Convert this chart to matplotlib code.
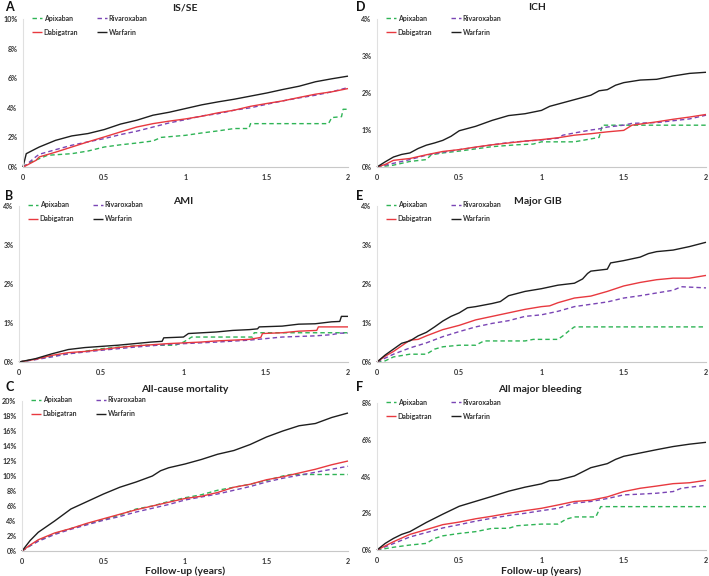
import matplotlib
matplotlib.use("Agg")
import matplotlib.pyplot as plt

plt.rcParams['font.family'] = ['Lato', 'DejaVu Sans']

# ---------------- data (cumulative incidence, %) ----------------
series_names = ["Apixaban", "Rivaroxaban", "Dabigatran", "Warfarin"]
x_ticks = [0, 0.5, 1, 1.5, 2]
x_tick_labels = ["0", "0.5", "1", "1.5", "2"]

# Panel A: IS/SE
A_t = [0, 0.02, 0.08, 0.1, 0.2, 0.3, 0.4, 0.5, 0.6, 0.7, 0.8, 0.9, 1.0, 1.1, 1.2, 1.3, 1.4, 1.5, 1.6, 1.7, 1.8, 1.9, 2.0]
A_war = [0, 0.9, 1.24, 1.35, 1.8, 2.1, 2.26, 2.53, 2.9, 3.16, 3.5, 3.7, 3.95, 4.2, 4.4, 4.58, 4.79, 5.0, 5.24, 5.46, 5.76, 5.96, 6.14]
A_dab = [0, 0.1, 0.45, 0.68, 1.0, 1.35, 1.7, 2.03, 2.37, 2.7, 2.93, 3.1, 3.25, 3.43, 3.66, 3.84, 4.1, 4.29, 4.47, 4.7, 4.92, 5.08, 5.3]
A_riv = [0, 0.15, 0.7, 0.86, 1.17, 1.47, 1.7, 1.92, 2.19, 2.42, 2.7, 2.98, 3.2, 3.45, 3.6, 3.84, 4.0, 4.24, 4.47, 4.67, 4.85, 5.08, 5.37]
A_apx_t = [0, 0.05, 0.1, 0.15, 0.3, 0.4, 0.5, 0.6, 0.7, 0.8, 0.85, 1.0, 1.1, 1.2, 1.3, 1.39, 1.4, 1.88, 1.9, 1.96, 1.97, 2.0]
A_apx = [0, 0.34, 0.56, 0.79, 0.9, 1.08, 1.35, 1.5, 1.62, 1.76, 2.0, 2.14, 2.3, 2.44, 2.6, 2.6, 2.93, 2.93, 3.34, 3.4, 3.9, 3.9]

# Panel B: AMI
B_war_t = [0, 0.1, 0.2, 0.3, 0.4, 0.5, 0.6, 0.7, 0.8, 0.87, 0.88, 1.0, 1.03, 1.2, 1.3, 1.4, 1.45, 1.46, 1.6, 1.7, 1.8, 1.9, 1.95, 1.96, 2.0]
B_war = [0, 0.085, 0.21, 0.32, 0.37, 0.4, 0.43, 0.47, 0.51, 0.53, 0.62, 0.64, 0.73, 0.77, 0.81, 0.83, 0.85, 0.9, 0.92, 0.97, 0.98, 1.03, 1.04, 1.17, 1.17]
B_dab_t = [0, 0.1, 0.2, 0.3, 0.4, 0.5, 0.6, 0.7, 0.8, 0.9, 1.0, 1.1, 1.2, 1.3, 1.4, 1.47, 1.48, 1.6, 1.7, 1.81, 1.82, 2.0]
B_dab = [0, 0.07, 0.17, 0.24, 0.27, 0.32, 0.37, 0.41, 0.44, 0.47, 0.49, 0.51, 0.54, 0.56, 0.58, 0.63, 0.73, 0.75, 0.79, 0.81, 0.9, 0.9]
B_riv_t = [0, 0.1, 0.2, 0.3, 0.5, 0.7, 0.9, 1.0, 1.2, 1.4, 1.5, 1.6, 1.8, 1.9, 1.95, 2.0]
B_riv = [0, 0.06, 0.13, 0.21, 0.3, 0.38, 0.45, 0.47, 0.51, 0.56, 0.6, 0.64, 0.67, 0.7, 0.74, 0.74]
B_apx_t = [0, 0.1, 0.2, 0.3, 0.5, 0.6, 0.75, 0.95, 1.0, 1.05, 1.42, 1.43, 2.0]
B_apx = [0, 0.07, 0.15, 0.21, 0.34, 0.38, 0.43, 0.43, 0.51, 0.64, 0.64, 0.75, 0.75]

# Panel C: All-cause mortality
C_t = [0, 0.05, 0.1, 0.2, 0.3, 0.4, 0.5, 0.6, 0.7, 0.8, 0.85, 0.9, 1.0, 1.1, 1.2, 1.3, 1.4, 1.5, 1.6, 1.7, 1.8, 1.9, 2.0]
C_war = [0, 1.4, 2.5, 4.0, 5.6, 6.6, 7.6, 8.5, 9.2, 10.0, 10.7, 11.1, 11.6, 12.2, 12.9, 13.4, 14.2, 15.2, 16.0, 16.7, 17.0, 17.8, 18.4]
C_dab = [0, 0.8, 1.5, 2.4, 3.0, 3.7, 4.3, 4.9, 5.5, 6.0, 6.25, 6.5, 7.0, 7.3, 7.8, 8.5, 8.9, 9.5, 9.9, 10.4, 10.9, 11.5, 12.0]
C_riv = [0, 0.7, 1.3, 2.2, 2.9, 3.5, 4.1, 4.6, 5.2, 5.7, 5.95, 6.2, 6.8, 7.2, 7.6, 8.1, 8.6, 9.2, 9.7, 10.1, 10.5, 10.9, 11.3]
C_apx_t = [0, 0.05, 0.1, 0.2, 0.3, 0.4, 0.5, 0.6, 0.7, 0.8, 0.9, 1.0, 1.1, 1.2, 1.3, 1.4, 1.5, 1.6, 1.65, 2.0]
C_apx = [0, 0.7, 1.4, 2.3, 3.0, 3.6, 4.2, 4.8, 5.6, 6.0, 6.6, 7.1, 7.5, 8.1, 8.5, 8.9, 9.4, 10.0, 10.2, 10.2]

# Panel D: ICH
D_t = [0, 0.05, 0.1, 0.15, 0.2, 0.25, 0.3, 0.35, 0.4, 0.45, 0.5, 0.6, 0.7, 0.8, 0.9, 1.0, 1.05, 1.1, 1.2, 1.3, 1.35, 1.4, 1.45, 1.5, 1.6, 1.7, 1.8, 1.9, 2.0]
D_war = [0, 0.14, 0.27, 0.34, 0.38, 0.5, 0.59, 0.65, 0.72, 0.83, 0.98, 1.1, 1.26, 1.39, 1.44, 1.53, 1.64, 1.7, 1.82, 1.94, 2.06, 2.09, 2.21, 2.28, 2.35, 2.37, 2.46, 2.53, 2.56]
D_dab_t = [0, 0.05, 0.1, 0.2, 0.3, 0.4, 0.5, 0.6, 0.7, 0.8, 0.9, 1.0, 1.1, 1.2, 1.3, 1.4, 1.5, 1.55, 1.6, 1.7, 1.8, 1.9, 2.0]
D_dab = [0, 0.07, 0.18, 0.23, 0.33, 0.42, 0.47, 0.54, 0.6, 0.65, 0.7, 0.74, 0.79, 0.86, 0.9, 0.95, 0.99, 1.13, 1.16, 1.22, 1.29, 1.35, 1.42]
D_riv_t = [0, 0.1, 0.2, 0.3, 0.4, 0.5, 0.6, 0.7, 0.8, 0.9, 1.0, 1.1, 1.13, 1.2, 1.3, 1.35, 1.4, 1.5, 1.55, 1.7, 1.8, 1.9, 2.0]
D_riv = [0, 0.1, 0.2, 0.32, 0.4, 0.47, 0.53, 0.6, 0.66, 0.7, 0.73, 0.78, 0.86, 0.92, 1.0, 1.03, 1.08, 1.13, 1.18, 1.2, 1.25, 1.3, 1.4]
D_apx_t = [0, 0.1, 0.15, 0.2, 0.3, 0.33, 0.4, 0.5, 0.7, 0.85, 0.95, 1.0, 1.2, 1.35, 1.37, 2.0]
D_apx = [0, 0.05, 0.1, 0.15, 0.2, 0.33, 0.38, 0.43, 0.55, 0.6, 0.62, 0.68, 0.68, 0.8, 1.13, 1.13]

# Panel E: Major GIB
E_war_t = [0, 0.05, 0.1, 0.15, 0.2, 0.25, 0.3, 0.35, 0.4, 0.45, 0.5, 0.55, 0.6, 0.7, 0.75, 0.8, 0.9, 1.0, 1.1, 1.2, 1.25, 1.28, 1.3, 1.4, 1.42, 1.5, 1.6, 1.65, 1.7, 1.8, 1.9, 2.0]
E_war = [0, 0.18, 0.33, 0.48, 0.54, 0.67, 0.76, 0.9, 1.05, 1.17, 1.26, 1.39, 1.42, 1.5, 1.55, 1.7, 1.81, 1.88, 1.97, 2.02, 2.13, 2.27, 2.33, 2.38, 2.54, 2.6, 2.69, 2.78, 2.83, 2.87, 2.96, 3.07]
E_dab_t = [0, 0.05, 0.1, 0.2, 0.25, 0.3, 0.4, 0.5, 0.6, 0.7, 0.8, 0.9, 1.0, 1.05, 1.1, 1.2, 1.3, 1.4, 1.5, 1.6, 1.7, 1.8, 1.9, 2.0]
E_dab = [0, 0.15, 0.27, 0.56, 0.58, 0.67, 0.83, 0.94, 1.08, 1.17, 1.26, 1.35, 1.42, 1.44, 1.52, 1.64, 1.69, 1.81, 1.95, 2.04, 2.11, 2.15, 2.15, 2.22]
E_riv_t = [0, 0.1, 0.2, 0.3, 0.4, 0.5, 0.6, 0.7, 0.8, 0.9, 1.0, 1.1, 1.2, 1.3, 1.4, 1.5, 1.6, 1.7, 1.8, 1.85, 2.0]
E_riv = [0, 0.2, 0.36, 0.49, 0.65, 0.78, 0.9, 0.99, 1.06, 1.17, 1.21, 1.3, 1.42, 1.48, 1.54, 1.64, 1.7, 1.77, 1.84, 1.93, 1.9]
E_apx_t = [0, 0.05, 0.1, 0.2, 0.3, 0.35, 0.4, 0.5, 0.6, 0.65, 0.9, 0.95, 1.1, 1.13, 1.17, 1.2, 2.0]
E_apx = [0, 0.03, 0.13, 0.2, 0.2, 0.33, 0.39, 0.43, 0.43, 0.54, 0.54, 0.58, 0.58, 0.67, 0.81, 0.9, 0.9]

# Panel F: All major bleeding
F_t = [0, 0.05, 0.1, 0.15, 0.2, 0.3, 0.4, 0.5, 0.6, 0.7, 0.8, 0.9, 1.0, 1.05, 1.1, 1.2, 1.3, 1.4, 1.45, 1.5, 1.6, 1.7, 1.8, 1.9, 2.0]
F_war = [0, 0.36, 0.63, 0.85, 1.0, 1.5, 1.95, 2.38, 2.65, 2.92, 3.2, 3.42, 3.6, 3.77, 3.8, 4.03, 4.48, 4.7, 4.93, 5.1, 5.28, 5.46, 5.63, 5.76, 5.86]
F_dab_t = [0, 0.1, 0.2, 0.3, 0.4, 0.5, 0.6, 0.7, 0.8, 0.9, 1.0, 1.1, 1.2, 1.3, 1.4, 1.5, 1.6, 1.7, 1.8, 1.9, 2.0]
F_dab = [0, 0.45, 0.85, 1.11, 1.38, 1.52, 1.7, 1.84, 2.0, 2.14, 2.27, 2.45, 2.64, 2.71, 2.89, 3.18, 3.36, 3.48, 3.61, 3.66, 3.79]
F_riv_t = [0, 0.1, 0.2, 0.3, 0.4, 0.5, 0.6, 0.7, 0.8, 0.9, 1.0, 1.1, 1.2, 1.3, 1.4, 1.5, 1.6, 1.7, 1.8, 1.85, 2.0]
F_riv = [0, 0.35, 0.71, 0.95, 1.2, 1.38, 1.57, 1.73, 1.88, 2.0, 2.14, 2.27, 2.55, 2.64, 2.8, 3.0, 3.04, 3.09, 3.18, 3.36, 3.52]
F_apx_t = [0, 0.1, 0.2, 0.3, 0.35, 0.4, 0.5, 0.6, 0.7, 0.8, 0.85, 1.0, 1.1, 1.15, 1.2, 1.33, 1.36, 2.0]
F_apx = [0, 0.15, 0.27, 0.36, 0.63, 0.77, 0.9, 1.0, 1.18, 1.18, 1.32, 1.41, 1.41, 1.68, 1.8, 1.8, 2.36, 2.36]

# ---------------- styling ----------------
W, H = 709, 576
fig = plt.figure(figsize=(W / 100, H / 100), dpi=100)

COL_APX = "#2fb456"
COL_RIV = "#7a45b5"
COL_DAB = "#e8393f"
COL_WAR = "#1e1e1e"
DASH = (0, (3.2, 2.2))
TXT = "#333333"


def px_axes(left, right, top, bottom):
    return fig.add_axes([left / W, 1 - bottom / H, (right - left) / W, (bottom - top) / H])


panels = [
    # letter, title, rect(l, r, top, bottom), ymax, ystep, data, letter pos, title pos, xlabel
    ("A", "IS/SE", (23, 348, 19, 167), 10, 2,
     [(A_apx_t, A_apx), (A_t, A_riv), (A_t, A_dab), (A_t, A_war)], (5, 7), (185, 8), False),
    ("B", "AMI", (19, 348, 206, 362), 4, 1,
     [(B_apx_t, B_apx), (B_riv_t, B_riv), (B_dab_t, B_dab), (B_war_t, B_war)], (5, 196), (183, 202), False),
    ("C", "All-cause mortality", (22, 348, 401, 551), 20, 2,
     [(C_apx_t, C_apx), (C_t, C_riv), (C_t, C_dab), (C_t, C_war)], (5, 387), (185, 389), True),
    ("D", "ICH", (377, 706, 19, 167), 4, 1,
     [(D_apx_t, D_apx), (D_riv_t, D_riv), (D_dab_t, D_dab), (D_t, D_war)], (356, 7), (537, 7), False),
    ("E", "Major GIB", (377, 706, 206, 362), 4, 1,
     [(E_apx_t, E_apx), (E_riv_t, E_riv), (E_dab_t, E_dab), (E_war_t, E_war)], (356, 196), (538, 202), False),
    ("F", "All major bleeding", (377, 706, 403, 550), 8, 2,
     [(F_apx_t, F_apx), (F_riv_t, F_riv), (F_dab_t, F_dab), (F_t, F_war)], (356, 387), (540, 389), True),
]

styles = [
    dict(color=COL_APX, linestyle=DASH, lw=1.0),
    dict(color=COL_RIV, linestyle=DASH, lw=1.0),
    dict(color=COL_DAB, linestyle="-", lw=1.0),
    dict(color=COL_WAR, linestyle="-", lw=1.0),
]

for letter, title, rect, ymax, ystep, data, lpos, tpos, has_xlabel in panels:
    l, r, t, b = rect
    ax = px_axes(l, r, t, b)
    ax.set_xlim(0, 2)
    ax.set_ylim(0, ymax)
    handles = {}
    for (tt, yy), st, name in zip(data, styles, series_names):
        ln, = ax.plot(tt, yy, clip_on=False, solid_capstyle="butt", **st)
        handles[name] = ln
    yt = list(range(0, ymax + 1, ystep))
    ax.set_yticks(yt)
    ax.set_yticklabels([f"{v}%" for v in yt])
    ax.set_xticks(x_ticks)
    ax.set_xticklabels(x_tick_labels)
    ax.tick_params(length=0, labelsize=5.2, labelcolor=TXT)
    ax.tick_params(axis="y", pad=4)
    ax.tick_params(axis="x", pad=5)
    for lab in ax.get_xticklabels() + ax.get_yticklabels():
        lab.set_fontweight("bold")
    for s in ("top", "right"):
        ax.spines[s].set_visible(False)
    ax.spines["left"].set_color("#e0e0e0")
    ax.spines["left"].set_linewidth(0.8)
    ax.spines["bottom"].set_color("#c8c8c8")
    ax.spines["bottom"].set_linewidth(0.8)

    order = ["Apixaban", "Dabigatran", "Rivaroxaban", "Warfarin"]
    leg = ax.legend([handles[n] for n in order], order, ncol=2, loc="upper left",
                    bbox_to_anchor=((32 - 23) / (r - l), 1.03),
                    frameon=False, fontsize=5, handlelength=1.5, handletextpad=0.2,
                    columnspacing=2.7, labelspacing=1.0, borderaxespad=0, borderpad=0)
    for txt in leg.get_texts():
        txt.set_fontweight("bold")
        txt.set_color(TXT)

    fig.text(lpos[0] / W, 1 - lpos[1] / H, letter, fontsize=9, fontweight="bold",
             ha="left", va="center", color="#111111")
    fig.text(tpos[0] / W, 1 - tpos[1] / H, title, fontsize=7.5, fontweight="bold",
             ha="center", va="center", color="#222222")
    if has_xlabel:
        fig.text(((l + r) / 2) / W, 1 - 571 / H, "Follow-up (years)", fontsize=7.5,
                 fontweight="bold", ha="center", va="center", color="#222222")

fig.savefig("out.png", dpi=100)
